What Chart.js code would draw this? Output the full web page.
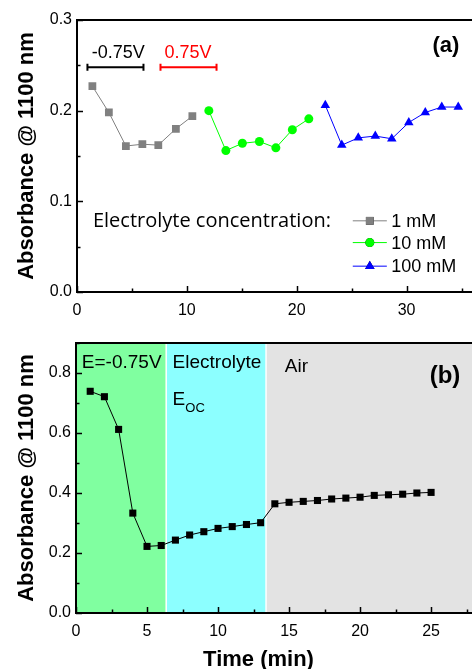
<!DOCTYPE html>
<html>
<head>
<meta charset="utf-8">
<script src="https://cdn.jsdelivr.net/npm/chart.js@4.4.1/dist/chart.umd.min.js"></script>
<style>
  html, body { margin: 0; padding: 0; background: #fff; overflow: hidden; }
  #top { position: absolute; left: 0; top: 0; width: 500px; height: 322px; }
  #bottom { position: absolute; left: 0; top: 322px; width: 520px; height: 347px; }
</style>
</head>
<body>
<div id="top"><canvas id="chartA"></canvas></div>
<div id="bottom"><canvas id="chartB"></canvas></div>
<script>
// (a) absorbance vs time for three electrolyte concentrations
const conc1Time = [1.4, 2.9, 4.45, 5.95, 7.4, 9.0, 10.5];
const conc1Abs = [0.227, 0.198, 0.161, 0.163, 0.162, 0.180, 0.194];
const conc10Time = [12.0, 13.55, 15.05, 16.6, 18.1, 19.6, 21.1];
const conc10Abs = [0.200, 0.156, 0.164, 0.166, 0.159, 0.179, 0.191];
const conc100Time = [22.6, 24.1, 25.6, 27.15, 28.65, 30.2, 31.7, 33.2, 34.7];
const conc100Abs = [0.206, 0.162, 0.170, 0.172, 0.169, 0.187, 0.198, 0.204, 0.204];
const concLabels = ['1 mM', '10 mM', '100 mM'];

// (b) absorbance vs time, one sample through three stages
const timeB = [1, 2, 3, 4, 5, 6, 7, 8, 9, 10, 11, 12, 13, 14, 15, 16, 17, 18, 19, 20, 21, 22, 23, 24, 25];
const absB = [0.739, 0.721, 0.612, 0.333, 0.222, 0.225, 0.243, 0.260, 0.271, 0.282, 0.288, 0.295, 0.301,
              0.364, 0.369, 0.372, 0.375, 0.380, 0.383, 0.386, 0.392, 0.394, 0.396, 0.400, 0.402];
const stageEdges = [0, 6.35, 13.38, 30];
const stageColors = ['#80ffa0', '#8cffff', '#e3e3e3'];

const FONT = "'Liberation Sans', Arial, sans-serif";

const toXY = (xs, ys) => xs.map((x, i) => ({ x: x, y: ys[i] }));

// inward ticks (major + minor) and a black frame round the plot area
const frameTicks = {
    id: 'frameTicks',
    afterDraw(chart, args, opts) {
        const ctx = chart.ctx, a = chart.chartArea;
        const xs = chart.scales.x, ys = chart.scales.y;
        ctx.save();
        ctx.strokeStyle = '#000';
        ctx.lineWidth = 1.5;
        ctx.beginPath();
        for (let v = xs.min; v <= xs.max + 1e-9; v += opts.xMinor) {
            const p = Math.round(xs.getPixelForValue(v)) + 0.5;
            const major = Math.abs(v / opts.xMajor - Math.round(v / opts.xMajor)) < 1e-6;
            ctx.moveTo(p, a.bottom);
            ctx.lineTo(p, a.bottom - (major ? 6 : 3.5));
        }
        for (let v = ys.min; v <= ys.max + 1e-9; v += opts.yMinor) {
            const p = Math.round(ys.getPixelForValue(v)) + 0.5;
            const major = Math.abs(v / opts.yMajor - Math.round(v / opts.yMajor)) < 1e-6;
            ctx.moveTo(a.left, p);
            ctx.lineTo(a.left + (major ? 6 : 3.5), p);
        }
        ctx.stroke();
        ctx.lineWidth = 2;
        ctx.strokeRect(a.left, a.top, a.right - a.left, a.bottom - a.top);
        ctx.restore();
    }
};

// free text, bars and legend drawn in data coordinates
const notes = {
    id: 'notes',
    afterDraw(chart, args, opts) {
        const ctx = chart.ctx;
        const xs = chart.scales.x, ys = chart.scales.y;
        ctx.save();
        (opts.bars || []).forEach(b => {
            const x1 = xs.getPixelForValue(b.x1), x2 = xs.getPixelForValue(b.x2);
            const y = ys.getPixelForValue(b.y);
            ctx.strokeStyle = b.color;
            ctx.lineWidth = 2;
            ctx.beginPath();
            ctx.moveTo(x1, y); ctx.lineTo(x2, y);
            ctx.moveTo(x1, y - 3.5); ctx.lineTo(x1, y + 3.5);
            ctx.moveTo(x2, y - 3.5); ctx.lineTo(x2, y + 3.5);
            ctx.stroke();
        });
        (opts.texts || []).forEach(t => {
            ctx.font = t.font;
            ctx.fillStyle = t.color || '#000';
            ctx.textAlign = t.align || 'left';
            ctx.textBaseline = 'alphabetic';
            ctx.fillText(t.text, xs.getPixelForValue(t.x), ys.getPixelForValue(t.y));
        });
        if (opts.legend) {
            const L = opts.legend;
            chart.data.datasets.forEach((ds, i) => {
                const y = ys.getPixelForValue(L.y[i]);
                const x1 = xs.getPixelForValue(L.x1), x2 = xs.getPixelForValue(L.x2);
                ctx.strokeStyle = ds.borderColor;
                ctx.lineWidth = 1;
                ctx.beginPath();
                ctx.moveTo(x1, y); ctx.lineTo(x2, y);
                ctx.stroke();
                Chart.helpers.drawPoint(ctx, {
                    pointStyle: ds.pointStyle, radius: ds.pointRadius, borderWidth: 0
                }, (x1 + x2) / 2, y);
                ctx.fillStyle = ds.pointBackgroundColor;
                ctx.fill();
                ctx.font = L.font;
                ctx.fillStyle = '#000';
                ctx.textAlign = 'left';
                ctx.textBaseline = 'middle';
                ctx.fillText(ds.label, xs.getPixelForValue(L.textX), y + 1);
            });
        }
        ctx.restore();
    }
};

// coloured stage backgrounds for panel (b)
const stages = {
    id: 'stages',
    beforeDatasetsDraw(chart) {
        const ctx = chart.ctx, a = chart.chartArea, xs = chart.scales.x;
        ctx.save();
        for (let i = 0; i < stageColors.length; i++) {
            const l = Math.max(a.left, xs.getPixelForValue(stageEdges[i]));
            const r = Math.min(a.right, xs.getPixelForValue(stageEdges[i + 1]));
            ctx.fillStyle = stageColors[i];
            ctx.fillRect(l, a.top, r - l, a.bottom - a.top);
        }
        ctx.strokeStyle = '#fff';
        ctx.lineWidth = 1.5;
        ctx.beginPath();
        for (let i = 1; i < stageEdges.length - 1; i++) {
            const p = xs.getPixelForValue(stageEdges[i]);
            ctx.moveTo(p, a.top); ctx.lineTo(p, a.bottom);
        }
        ctx.stroke();
        ctx.restore();
    }
};

const tickFont = { family: FONT, size: 16 };
const yTitle = {
    display: true,
    text: 'Absorbance @ 1100 nm',
    color: '#000',
    font: { family: FONT, size: 22, weight: 'bold' },
    padding: { top: 14, bottom: 0 }
};
const noGrid = { display: false, drawTicks: false };

function lineSet(label, data, color, style, radius) {
    return {
        label: label,
        data: data,
        borderColor: color,
        backgroundColor: color,
        pointBackgroundColor: color,
        pointBorderWidth: 0,
        pointStyle: style,
        pointRadius: radius,
        borderWidth: 1,
        tension: 0
    };
}

new Chart(document.getElementById('chartA'), {
    type: 'line',
    data: {
        datasets: [
            lineSet(concLabels[0], toXY(conc1Time, conc1Abs), '#808080', 'rect', 5.5),
            lineSet(concLabels[1], toXY(conc10Time, conc10Abs), '#00ff00', 'circle', 4.5),
            lineSet(concLabels[2], toXY(conc100Time, conc100Abs), '#0000ff', 'triangle', 5.5)
        ]
    },
    options: {
        responsive: true,
        maintainAspectRatio: false,
        animation: false,
        layout: { padding: { top: 20, right: 5, left: 0, bottom: 0 } },
        plugins: {
            legend: { display: false },
            tooltip: { enabled: false },
            frameTicks: { xMinor: 5, xMajor: 10, yMinor: 0.05, yMajor: 0.1 },
            notes: {
                bars: [
                    { x1: 0.95, x2: 6.05, y: 0.248, color: '#000' },
                    { x1: 7.6, x2: 12.7, y: 0.248, color: '#ff0000' }
                ],
                texts: [
                    { x: 3.75, y: 0.258, text: '-0.75V', font: '18px ' + FONT, align: 'center' },
                    { x: 10.1, y: 0.258, text: '0.75V', font: '18px ' + FONT, align: 'center', color: '#ff0000' },
                    { x: 34.8, y: 0.265, text: '(a)', font: 'bold 22px ' + FONT, align: 'right' },
                    { x: 1.45, y: 0.0717, text: 'Electrolyte concentration:', font: "20px 'Open Sans', sans-serif" }
                ],
                legend: { x1: 25.1, x2: 28.2, textX: 28.6, y: [0.0785, 0.0545, 0.0285], font: '18px ' + FONT }
            }
        },
        scales: {
            x: {
                type: 'linear',
                min: 0, max: 38,
                grid: noGrid,
                border: { display: false },
                ticks: { stepSize: 10, includeBounds: false, color: '#000', font: tickFont, padding: 9, maxRotation: 0 },
                afterFit(scale) { scale.height = 30; }
            },
            y: {
                min: 0, max: 0.3,
                grid: noGrid,
                border: { display: false },
                ticks: { stepSize: 0.1, color: '#000', font: tickFont, padding: 5, callback: v => v.toFixed(1) },
                title: yTitle,
                afterFit(scale) { scale.width = 77; }
            }
        }
    },
    plugins: [frameTicks, notes]
});

new Chart(document.getElementById('chartB'), {
    type: 'line',
    data: {
        datasets: [
            lineSet('Absorbance', toXY(timeB, absB), '#000000', 'rect', 5)
        ]
    },
    options: {
        responsive: true,
        maintainAspectRatio: false,
        animation: false,
        layout: { padding: { top: 21, right: 7.5, left: 0, bottom: 0 } },
        plugins: {
            legend: { display: false },
            tooltip: { enabled: false },
            frameTicks: { xMinor: 2.5, xMajor: 5, yMinor: 0.1, yMajor: 0.2 },
            notes: {
                texts: [
                    { x: 0.41, y: 0.817, text: 'E=-0.75V', font: '19px ' + FONT },
                    { x: 6.8, y: 0.817, text: 'Electrolyte', font: '19px ' + FONT },
                    { x: 6.8, y: 0.693, text: 'E', font: '19px ' + FONT },
                    { x: 7.7, y: 0.670, text: 'OC', font: '13px ' + FONT },
                    { x: 14.7, y: 0.803, text: 'Air', font: '19px ' + FONT },
                    { x: 24.9, y: 0.767, text: '(b)', font: 'bold 24px ' + FONT },
                    { x: 12.85, y: -0.177, text: 'Time (min)', font: 'bold 22px ' + FONT, align: 'center' }
                ]
            }
        },
        scales: {
            x: {
                type: 'linear',
                min: 0, max: 30,
                grid: noGrid,
                border: { display: false },
                ticks: { stepSize: 5, includeBounds: false, color: '#000', font: tickFont, padding: 9, maxRotation: 0 },
                afterFit(scale) { scale.height = 56; }
            },
            y: {
                min: 0, max: 0.9,
                grid: noGrid,
                border: { display: false },
                ticks: { stepSize: 0.2, includeBounds: false, color: '#000', font: tickFont, padding: 5, callback: v => v.toFixed(1) },
                title: yTitle,
                afterFit(scale) { scale.width = 76; }
            }
        }
    },
    plugins: [stages, frameTicks, notes]
});
</script>
</body>
</html>
